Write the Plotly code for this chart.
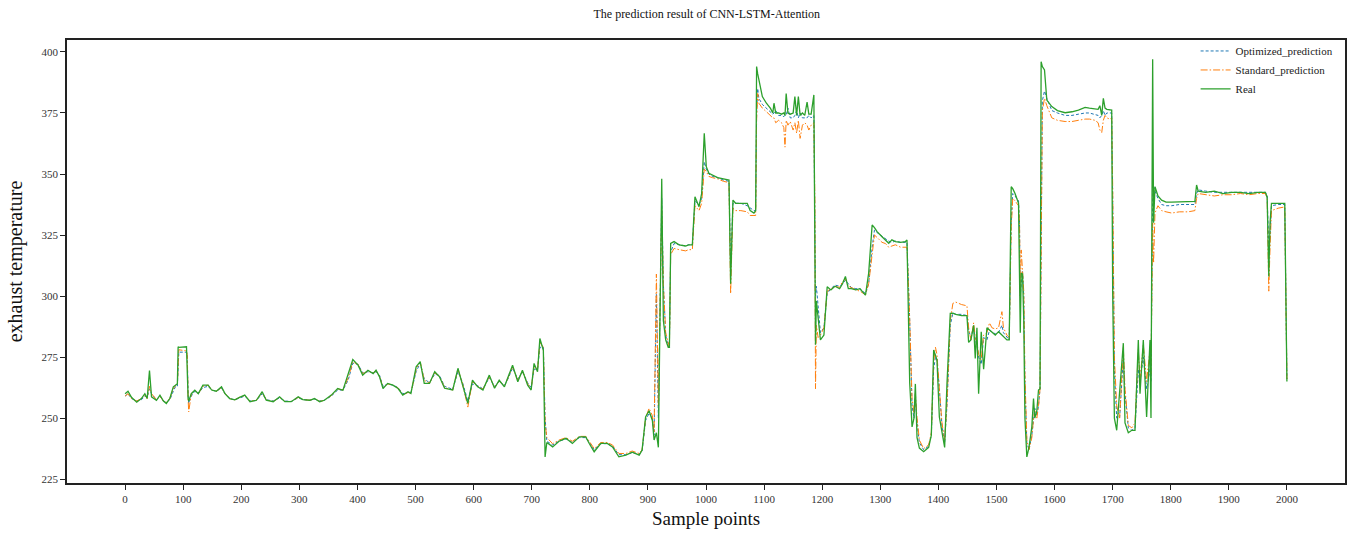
import plotly.graph_objects as go

# ---- data (knots along the sample axis) ----
sample_idx = [
    0, 5, 11, 20, 28, 34, 38, 42, 45.5, 54,
    60, 66, 71, 77, 83, 87, 90, 91.3, 92.5, 105.7,
    107, 108.5, 109.5, 114, 120, 126, 134, 143, 149, 157,
    166, 172, 180, 189, 197, 206, 215, 226, 236, 243,
    255, 266, 275, 286, 298, 306, 318, 326, 335, 343,
    355, 366, 375, 384, 392, 401, 409, 418, 427, 432,
    438, 444, 452, 461, 470, 478, 487, 492, 501, 508,
    515, 524, 533, 541, 550, 564, 573, 581, 590, 598,
    607, 616, 627, 636, 644, 653, 659, 667, 676, 684,
    693, 699, 704, 710, 714, 720, 723, 726, 736, 747,
    759, 770, 782, 793, 799, 807.5, 819, 830, 839, 850,
    862, 873, 885, 890, 896, 902, 907.7, 910.6, 914.6, 918,
    923.8, 926.6, 930.6, 935, 937, 939.2, 945, 953.6, 965, 970,
    976.5, 981, 988, 992.5, 997, 1000.5, 1005, 1011, 1020, 1030,
    1039.6, 1042.4, 1046.4, 1051, 1060, 1071, 1076, 1082.5, 1085.5, 1087.1,
    1089, 1091, 1097, 1104, 1111, 1115, 1117, 1120, 1125, 1130,
    1134, 1136, 1138, 1141, 1145, 1150, 1153, 1156, 1159, 1162,
    1166, 1170, 1174, 1177, 1181, 1185.7, 1187.4, 1188.5, 1190, 1193,
    1197, 1203, 1208.6, 1215, 1222, 1230, 1235, 1240, 1245, 1250,
    1258, 1265, 1274.5, 1280, 1286, 1290, 1294.5, 1303, 1309, 1314.6,
    1320, 1326, 1335, 1343, 1346, 1350.7, 1354.7, 1358, 1360.4, 1363.3,
    1367.3, 1374.7, 1383.3, 1387.9, 1391.9, 1395, 1397.6, 1401.7, 1406.2, 1410.8,
    1414.8, 1420.5, 1425, 1430, 1440, 1449.2, 1452.1, 1456, 1460.7, 1463.5,
    1466.4, 1469.3, 1473.8, 1477.9, 1483.6, 1488, 1492.2, 1498, 1503.6, 1509.4,
    1512, 1518, 1522, 1525.4, 1528, 1532, 1538, 1539.7, 1541, 1542.6,
    1544.9, 1547, 1549, 1552.3, 1556, 1560.9, 1563.8, 1566, 1569.5, 1572.4,
    1575, 1576.9, 1579, 1582.7, 1586.7, 1595.3, 1605, 1618.2, 1630, 1641.1,
    1652.6, 1660, 1669.7, 1675, 1678, 1681.2, 1684, 1686.9, 1690, 1695,
    1698.4, 1700.1, 1701.3, 1703, 1707, 1712, 1718.4, 1721.3, 1727, 1733,
    1738.5, 1744.2, 1747.1, 1752.8, 1758.5, 1764.3, 1766, 1768.9, 1770.5, 1772.9,
    1778, 1784.3, 1792, 1801.5, 1815, 1830, 1841.6, 1844.5, 1847.3, 1860,
    1875, 1890, 1905, 1920, 1935, 1950, 1963, 1966, 1968.8, 1971,
    1973.4, 1985, 1996.3, 2000,
]

real = [
    260, 261, 258.5, 256.5, 258, 260, 258, 269.5, 258.7, 257.3,
    259.4, 257, 256, 258, 262.8, 263.5, 264, 279.2, 279, 279.2,
    262, 258, 257, 260, 261.4, 260, 263.5, 263.5, 261.5, 261,
    262.8, 260, 258, 257.5, 258.5, 259.4, 256.7, 257.3, 260.8, 257.3,
    256.7, 258.7, 256.7, 256.7, 258.7, 257.6, 257.3, 258, 256.7, 257.3,
    259.4, 262.1, 261.4, 267.6, 274, 271.7, 267.6, 269.6, 268.2, 269.6,
    266.9, 262.1, 264.2, 263.5, 262.1, 259.4, 260.8, 260.1, 271, 273.1,
    264.2, 264.2, 269, 267, 262.2, 261.5, 270.4, 263.5, 256, 265.5,
    262.8, 261.5, 267.6, 262.2, 265.5, 262.8, 266.9, 271.7, 264.9, 269.6,
    263.5, 261.5, 272.4, 269, 282.6, 277.8, 234.1, 240, 238.2, 240.5,
    241.7, 239.6, 242.3, 242.3, 239.6, 236.2, 239.6, 239.6, 238.2, 234.1,
    234.8, 236, 234.8, 236.9, 250.5, 253, 249, 241, 244, 238,
    348, 290, 282, 279, 279, 321.6, 322.3, 321, 320.5, 321,
    321, 340.7, 336.6, 342, 366.7, 353, 350.3, 349.6, 348.5, 348,
    347.5, 305, 339.3, 338, 338, 338, 335, 334, 335, 394,
    391, 388.5, 381.7, 379, 376.9, 375, 379, 375, 375, 374.5,
    375, 374, 383, 375, 374.5, 375, 381.7, 374, 381.7, 374,
    375, 374, 379.5, 374.5, 374.5, 382.4, 300, 280, 298, 290,
    282, 284, 303.8, 302.5, 304, 303, 305, 308, 303, 303,
    302.5, 303, 300.4, 309.3, 329.1, 328, 326.4, 324.3, 323, 321.6,
    323, 322.3, 322, 322.3, 323, 264.3, 246.4, 250, 264, 242,
    237.7, 236.2, 238, 243, 277.9, 276, 273.8, 250.5, 244, 238,
    264, 292.9, 293, 292.5, 292, 292, 281, 282, 288, 274.4,
    287, 260, 285.4, 270, 287, 286, 285.4, 284, 285.4, 284,
    283.5, 282, 282, 344.8, 344, 342, 338, 290, 285, 309.4,
    309, 290, 250, 234.1, 238, 246.4, 258, 250, 253, 261.5,
    262, 396, 394, 392.6, 380.3, 377.6, 376, 375.1, 375.5, 376.2,
    377.3, 377, 376.8, 376.5, 378, 374, 381, 377, 376.5, 376.5,
    376.2, 301, 264, 250, 245, 260, 280.7, 248, 244, 245,
    245, 282, 260, 282, 250.5, 282, 250, 397, 330, 344.8,
    341, 339.3, 338.5, 338.5, 338.5, 338.5, 338.8, 345.5, 343, 342.5,
    343, 342, 342.5, 342.5, 342, 342.5, 342.5, 340.5, 308, 330,
    338, 338, 338, 265,
]

optimized_pred = [
    259, 260, 258, 257, 257.5, 259, 258.5, 262, 260, 257.5,
    259, 257, 256.5, 257.5, 261, 263, 263, 268, 277, 277,
    276, 260, 256, 259, 261, 260, 262.5, 263, 261.5, 261,
    262.3, 260, 258, 257.5, 258.3, 259, 257, 257.2, 260, 257.5,
    257, 258.3, 257, 256.8, 258.3, 257.6, 257.3, 257.8, 257, 257.3,
    259, 261.5, 261.5, 265.5, 272.5, 272, 268.5, 269, 268.5, 269,
    267.5, 263, 264, 263.5, 262.5, 260, 260.5, 260.3, 269, 272.5,
    266, 264.5, 268, 267.5, 263, 261.8, 269, 264.5, 257, 264,
    263.3, 262, 266.5, 263, 265, 263.3, 266, 270.5, 266, 269,
    264.5, 262.5, 270, 270, 279, 279, 250, 240.5, 239, 240.5,
    241.5, 240, 242, 242, 240.2, 237, 239.5, 239.5, 238.5, 235,
    235, 235.8, 235.2, 236.5, 249, 252, 250, 243, 301, 250,
    340, 305, 284, 279.5, 279, 318, 321.5, 321, 320.5, 321,
    321, 339, 337.5, 340, 355, 352, 350, 349, 348.5, 347.5,
    347, 312, 338, 338, 338, 337, 336, 335, 335, 375,
    385, 381, 378.5, 377, 375.5, 374.5, 375, 376, 374, 374,
    373.5, 374, 374, 377, 373, 373, 374, 376, 373, 375,
    373, 373, 373, 374, 373, 374, 340, 300, 304, 295,
    285, 287, 301, 303, 304.5, 304, 305, 306.5, 305, 303.5,
    303, 303, 301, 305, 320, 327, 326, 324.5, 323.5, 322.5,
    322, 322.5, 322, 322, 322, 290, 255, 250, 258, 248,
    240, 237, 238.5, 243, 270, 275, 274, 262, 247, 240,
    255, 288, 293, 292.5, 292.5, 292, 286, 283, 287, 282,
    280, 275, 272, 283, 282, 286, 285.5, 284.5, 285, 288,
    285, 283, 282, 330, 342, 341, 339, 330, 300, 305,
    310, 300, 265, 240, 237, 243, 250, 254, 251, 255,
    262, 340, 380, 384, 381, 376, 375, 374, 374, 374.5,
    375, 375, 374.5, 374, 373, 374, 376, 374, 375, 375,
    375, 340, 300, 270, 250, 250, 275, 260, 246, 245,
    246, 270, 265, 275, 262, 270, 265, 340, 345, 343,
    340, 337.5, 337, 337, 337.5, 337.5, 337.5, 342, 343.5, 343,
    342.5, 342.5, 342.5, 342.5, 342.5, 342.5, 342.5, 341, 320, 325,
    337, 337.5, 337.5, 266,
]

standard_pred = [
    259, 260, 258, 257, 258, 259.5, 258, 263, 260, 257.5,
    259, 257, 256.5, 258, 262, 263.5, 264, 270, 278, 277.5,
    276, 258, 252.5, 260, 261.5, 260, 263, 263.5, 261.5, 261,
    262.5, 260, 258, 257.5, 258.5, 259.2, 257, 257.3, 260.5, 257.5,
    256.8, 258.5, 256.8, 256.8, 258.5, 257.6, 257.3, 258, 256.8, 257.3,
    259.2, 262, 261.5, 266.5, 273, 272, 268.2, 269.2, 268.5, 269.4,
    267.2, 262.5, 264, 263.5, 262.3, 259.5, 260.5, 260.2, 270, 273,
    265.5, 264.3, 268.5, 267.2, 262.5, 261.5, 270, 264, 254.5, 265,
    263, 261.8, 267, 262.5, 265.2, 263, 266.5, 271, 265.5, 269.2,
    264, 262, 271, 270, 281, 279, 248, 242, 239.5, 241,
    242, 240.5, 242.5, 242.5, 240.5, 237.5, 240, 240, 239, 235.5,
    235.5, 236.5, 235.5, 237, 250, 254, 251, 244, 309, 255,
    335, 305, 285, 280, 279, 317, 319.5, 319, 318.5, 319,
    319, 337, 335, 338, 352, 351, 349, 348.5, 348, 347,
    346.5, 301, 336, 335, 335, 334.5, 333, 333, 333, 372,
    383, 379, 377, 375.5, 374, 373, 373, 371, 372, 371,
    369, 361, 372, 370, 371.5, 368, 371, 366.7, 372, 364.6,
    370, 371, 370, 368, 370, 371, 340, 262, 288, 283,
    284, 287, 302, 303, 304, 303.5, 306, 307, 304, 303.5,
    302.5, 302, 300.5, 305, 318, 325, 324, 322, 321.5, 320,
    320.5, 321, 320, 320, 320, 290, 258, 252, 260, 250,
    241, 237.5, 239, 244, 273, 279, 276, 262, 248, 241,
    256, 290, 297, 297.5, 296.5, 296, 287, 282, 289, 283,
    281, 276, 274, 284, 285, 289, 287, 286.5, 287, 293.6,
    287, 284, 283, 328, 340, 339, 337, 330, 300, 318.9,
    312, 302, 268, 241, 237, 242, 250, 253, 250, 255,
    262, 330, 376, 381, 378, 373, 372, 371.5, 371.5, 372,
    372.5, 372.5, 372, 371, 368, 367, 372, 374, 373, 372.5,
    373, 345, 300, 275, 255, 250, 279, 262, 247, 246,
    248, 278, 266, 280, 265, 278, 268, 330, 313.5, 334,
    337, 335, 334.5, 334, 334.5, 334.5, 335, 340, 342, 341.5,
    341, 341.5, 341.5, 342, 341.5, 342, 342, 340, 302, 320,
    335, 336, 336.5, 266,
]

x_ticks = list(range(0, 2001, 100))
y_ticks = [225, 250, 275, 300, 325, 350, 375, 400]

assert len(sample_idx) == len(real) == len(optimized_pred) == len(standard_pred)

FONT = "Liberation Serif"

fig = go.Figure()
fig.add_trace(go.Scatter(
    x=sample_idx, y=optimized_pred, mode="lines", name="Optimized_prediction",
    line=dict(color="#1f77b4", width=1, dash="3px,2px"),
))
fig.add_trace(go.Scatter(
    x=sample_idx, y=standard_pred, mode="lines", name="Standard_prediction",
    line=dict(color="#ff7f0e", width=1, dash="7px,2px,1.5px,2px"),
))
fig.add_trace(go.Scatter(
    x=sample_idx, y=real, mode="lines", name="Real",
    line=dict(color="#2ca02c", width=1.3),
))

axis_common = dict(
    showline=True, linecolor="#222", linewidth=1.6, mirror=True,
    ticks="outside", ticklen=5, tickwidth=1.3, tickcolor="#222",
    showgrid=False, zeroline=False,
    tickfont=dict(family=FONT, size=11, color="#333"),
)

fig.update_layout(
    width=1354, height=543,
    margin=dict(l=67, r=7, t=40, b=60),
    paper_bgcolor="white", plot_bgcolor="white",
    font=dict(family=FONT, color="#111"),
    title=dict(
        text="The prediction result of CNN-LSTM-Attention",
        font=dict(family=FONT, size=12, color="#111"),
        x=0.522, xanchor="center", y=0.975, yanchor="middle", yref="container",
    ),
    xaxis=dict(
        range=[-100, 2100], tickvals=x_ticks,
        title=dict(text="Sample points", font=dict(family=FONT, size=19, color="#111"), standoff=8),
        **axis_common,
    ),
    yaxis=dict(
        range=[223.4, 404.9], tickvals=y_ticks,
        title=dict(text="exhaust temperature", font=dict(family=FONT, size=20, color="#111"), standoff=14),
        **axis_common,
    ),
    legend=dict(
        x=0.995, y=1.008, xanchor="right", yanchor="top",
        bgcolor="rgba(255,255,255,0)", borderwidth=0,
        font=dict(family=FONT, size=11, color="#222"),
        tracegroupgap=0, itemwidth=30,
    ),
    showlegend=True,
)

fig.write_html("out.html")
